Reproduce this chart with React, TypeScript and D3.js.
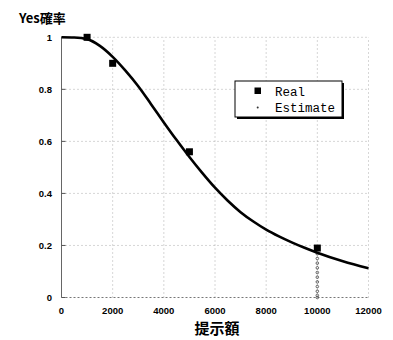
import React, { useEffect, useRef } from "react";
import * as d3 from "d3";

// fitted curve
const curveX = [0, 500, 1000, 1500, 2000, 2500, 3000, 3500, 4000, 4500, 5000, 5500, 6000, 6500, 7000, 7500, 8000, 8500, 9000, 9500, 10000, 11000, 12000];
const curveY = [1.0, 0.999, 0.993, 0.967, 0.925, 0.872, 0.812, 0.743, 0.673, 0.605, 0.54, 0.479, 0.422, 0.372, 0.328, 0.292, 0.261, 0.235, 0.212, 0.191, 0.172, 0.139, 0.112];

// observed points
const realX = [1000, 2000, 5000, 10000];
const realY = [1.0, 0.9, 0.56, 0.19];

// estimate points (dotted drop at 10000)
const estX = [10000, 10000, 10000, 10000, 10000, 10000, 10000, 10000, 10000, 10000, 10000];
const estY = [0.168, 0.15, 0.132, 0.114, 0.096, 0.078, 0.06, 0.042, 0.024, 0.008, 0.0];

const xTicks = [0, 2000, 4000, 6000, 8000, 10000, 12000];
const yTicks = [0, 0.2, 0.4, 0.6, 0.8, 1];

export default function App() {
    const svgRef = useRef<SVGSVGElement>(null);

    useEffect(() => {
        document.body.style.margin = "0";
        if (!svgRef.current) return;
        const svg = d3.select(svgRef.current);
        svg.selectAll("*").remove();

        const x = d3.scaleLinear().domain([0, 12000]).range([61.5, 368.5]);
        const y = d3.scaleLinear().domain([0, 1]).range([297.5, 37.3]);

        svg.append("rect").attr("width", 393).attr("height", 340).attr("fill", "#fff");

        // grid
        const grid = svg.append("g").attr("stroke", "#999").attr("stroke-width", 0.8).attr("stroke-dasharray", "1 3");
        xTicks.filter(t => t > 0).forEach(t => {
            grid.append("line").attr("x1", x(t)).attr("x2", x(t)).attr("y1", y(0)).attr("y2", y(1));
        });
        yTicks.filter(t => t > 0).forEach(t => {
            grid.append("line").attr("x1", x(0)).attr("x2", x(12000)).attr("y1", y(t)).attr("y2", y(t));
        });

        // axes
        svg.append("line")
            .attr("x1", x(0)).attr("x2", x(0)).attr("y1", y(0)).attr("y2", y(1))
            .attr("stroke", "#666").attr("stroke-width", 1);
        svg.append("line")
            .attr("x1", x(0)).attr("x2", x(12000)).attr("y1", y(0)).attr("y2", y(0))
            .attr("stroke", "#777").attr("stroke-width", 1).attr("stroke-dasharray", "2 2");

        yTicks.forEach(t => {
            svg.append("line").attr("x1", x(0)).attr("x2", x(0) + 4).attr("y1", y(t)).attr("y2", y(t))
                .attr("stroke", "#555").attr("stroke-width", 1);
            svg.append("text")
                .attr("x", 52).attr("y", y(t)).attr("dy", "0.35em")
                .attr("text-anchor", "end")
                .attr("font-family", "Liberation Sans, Arial, sans-serif")
                .attr("font-weight", "bold").attr("font-size", 9.5)
                .text(String(t));
        });

        xTicks.forEach(t => {
            svg.append("text")
                .attr("x", x(t)).attr("y", 314)
                .attr("text-anchor", "middle")
                .attr("font-family", "Liberation Sans, Arial, sans-serif")
                .attr("font-weight", "bold").attr("font-size", 9.5)
                .text(String(t));
        });

        // titles
        svg.append("text")
            .attr("x", 19).attr("y", 23)
            .attr("font-family", "Noto Sans CJK JP, sans-serif")
            .attr("font-weight", "bold").attr("font-size", 13)
            .text("Yes確率");
        svg.append("text")
            .attr("x", 217).attr("y", 334)
            .attr("text-anchor", "middle")
            .attr("font-family", "Noto Sans CJK JP, sans-serif")
            .attr("font-weight", "bold").attr("font-size", 15)
            .text("提示額");

        // estimate dots
        svg.append("line")
            .attr("x1", x(10000)).attr("x2", x(10000)).attr("y1", y(estY[0])).attr("y2", y(0))
            .attr("stroke", "#aaa").attr("stroke-width", 0.8).attr("stroke-dasharray", "1 2");
        estX.forEach((v, i) => {
            svg.append("circle")
                .attr("cx", x(v)).attr("cy", y(estY[i])).attr("r", 1.3)
                .attr("fill", "none").attr("stroke", "#555").attr("stroke-width", 0.9);
        });

        // curve
        const pts = curveX.map((v, i) => [v, curveY[i]] as [number, number]);
        const line = d3.line<[number, number]>()
            .x(d => x(d[0]))
            .y(d => y(d[1]))
            .curve(d3.curveMonotoneX);
        svg.append("path")
            .datum(pts)
            .attr("fill", "none")
            .attr("stroke", "#000")
            .attr("stroke-width", 2.6)
            .attr("d", line);

        // real points
        realX.forEach((v, i) => {
            svg.append("rect")
                .attr("x", x(v) - 3.5).attr("y", y(realY[i]) - 3.5)
                .attr("width", 7).attr("height", 7)
                .attr("fill", "#000");
        });

        // legend
        const lg = svg.append("g");
        lg.append("rect").attr("x", 237).attr("y", 83).attr("width", 107).attr("height", 36).attr("fill", "#000");
        lg.append("rect").attr("x", 235).attr("y", 81).attr("width", 107).attr("height", 36)
            .attr("fill", "#fff").attr("stroke", "#000").attr("stroke-width", 1);
        lg.append("rect").attr("x", 254.5).attr("y", 87.5).attr("width", 6.5).attr("height", 6.5).attr("fill", "#000");
        lg.append("circle").attr("cx", 257.7).attr("cy", 107.5).attr("r", 1).attr("fill", "#333");
        lg.append("text").attr("x", 275).attr("y", 96)
            .attr("font-family", "Liberation Mono, DejaVu Sans Mono, monospace")
            .attr("font-size", 12.5).text("Real");
        lg.append("text").attr("x", 275).attr("y", 111.5)
            .attr("font-family", "Liberation Mono, DejaVu Sans Mono, monospace")
            .attr("font-size", 12.5).text("Estimate");
    }, []);

    return <svg ref={svgRef} width={393} height={340} style={{ display: "block" }} />;
}
